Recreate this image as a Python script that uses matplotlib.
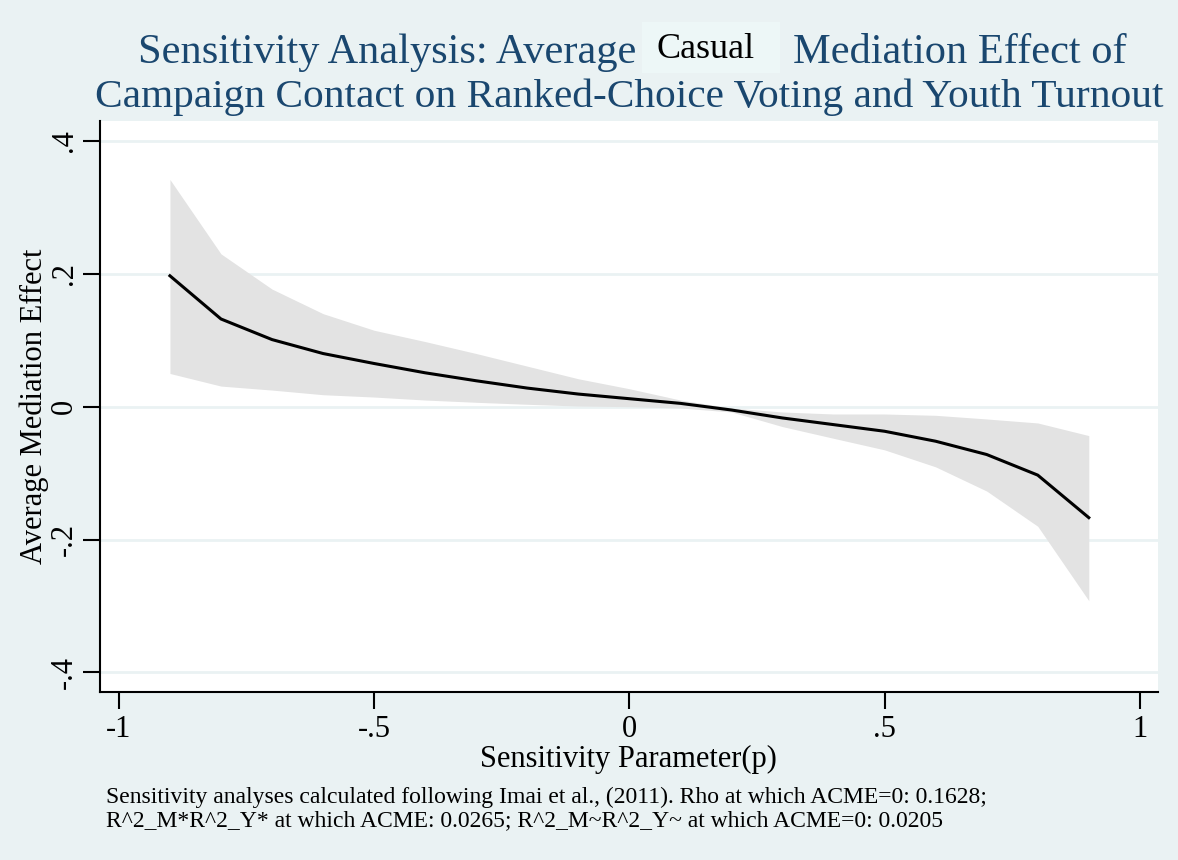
import matplotlib
matplotlib.use("Agg")
import matplotlib.pyplot as plt
from matplotlib.patches import Rectangle
import numpy as np

# ==== data
rho = [-0.9, -0.8, -0.7, -0.6, -0.5, -0.4, -0.3, -0.2, -0.1, 0.0,
       0.1, 0.2, 0.3, 0.4, 0.5, 0.6, 0.7, 0.8, 0.9]
acme = [0.197, 0.132, 0.101, 0.080, 0.065, 0.051, 0.039, 0.028, 0.019, 0.012,
        0.005, -0.005, -0.017, -0.027, -0.037, -0.052, -0.072, -0.103, -0.167]
upper = [0.342, 0.230, 0.177, 0.140, 0.115, 0.098, 0.080, 0.061, 0.042, 0.027,
         0.010, -0.002, -0.008, -0.011, -0.011, -0.013, -0.0185, -0.0245, -0.0435]
lower = [0.050, 0.031, 0.025, 0.018, 0.0145, 0.010, 0.0066, 0.0036, 0.001, 0.0,
         -0.002, -0.008, -0.030, -0.0476, -0.065, -0.0906, -0.127, -0.180, -0.292]

xticks = [-1, -0.5, 0, 0.5, 1]
xticklabels = ["-1", "-.5", "0", ".5", "1"]
yticks = [-0.4, -0.2, 0, 0.2, 0.4]
yticklabels = ["-.4", "-.2", "0", ".2", ".4"]

title1a = "Sensitivity Analysis: Average"
title1b = "Mediation Effect of"
patch_word = "Casual"
title2 = "Campaign Contact on Ranked-Choice Voting and Youth Turnout"
note = ("Sensitivity analyses calculated following Imai et al., (2011). Rho at which ACME=0: 0.1628;\n"
        "R^2_M*R^2_Y* at which ACME: 0.0265; R^2_M~R^2_Y~ at which ACME=0: 0.0205")

# ==== style
bg = "#EAF2F3"
navy = "#1A476F"
plt.rcParams['font.family'] = ['Liberation Serif', 'DejaVu Serif']

W, H = 1178, 860
fig = plt.figure(figsize=(W / 100, H / 100), dpi=100, facecolor=bg)
ax = fig.add_axes([100 / W, 1 - 691.7 / H, 1057.7 / W, 570.7 / H])
ax.set_facecolor("white")

ax.fill_between(rho, lower, upper, color="#E3E3E3", linewidth=0, zorder=2)
ax.plot(rho, acme, color="black", linewidth=2.2, zorder=3)

ax.set_xlim(-1.037, 1.035)
ax.set_ylim(-0.429, 0.430)

for y in yticks:
    ax.axhline(y, color=bg, linewidth=2, zorder=1)

for s in ["top", "right"]:
    ax.spines[s].set_visible(False)
for s in ["left", "bottom"]:
    ax.spines[s].set_linewidth(1.5)
    ax.spines[s].set_color("black")

ax.set_xticks(xticks)
ax.set_xticklabels(xticklabels, fontsize=22)
ax.set_yticks(yticks)
ax.set_yticklabels(yticklabels, fontsize=22, rotation=90, va="center")
ax.tick_params(direction="out", length=12, width=1.5)
ax.tick_params(axis="x", pad=5)
ax.tick_params(axis="y", pad=3)

ax.set_xlabel("Sensitivity Parameter(p)", fontsize=22, labelpad=0.5)
ax.set_ylabel("Average Mediation Effect", fontsize=22, labelpad=1)

# title, first line split round the pasted box
fig.text(636 / W, 1 - 53 / H, title1a, ha="right", va="center", fontsize=30.5, color=navy)
fig.text(793 / W, 1 - 53 / H, title1b, ha="left", va="center", fontsize=30.5, color=navy)
fig.text(629 / W, 1 - 97 / H, title2, ha="center", va="center", fontsize=29.8, color=navy)

fig.patches.append(Rectangle((642 / W, 1 - 73 / H), 138 / W, 51 / H,
                             transform=fig.transFigure, facecolor="#EDF7F7",
                             edgecolor="none", zorder=5))
fig.text(706 / W, 1 - 49 / H, patch_word, ha="center", va="center", fontsize=26,
         color="black", zorder=6)

fig.text(106 / W, 1 - 809 / H, note, ha="left", va="center", fontsize=17,
         color="black", linespacing=1.15)

plt.savefig("out.png", dpi=100, facecolor=bg)
